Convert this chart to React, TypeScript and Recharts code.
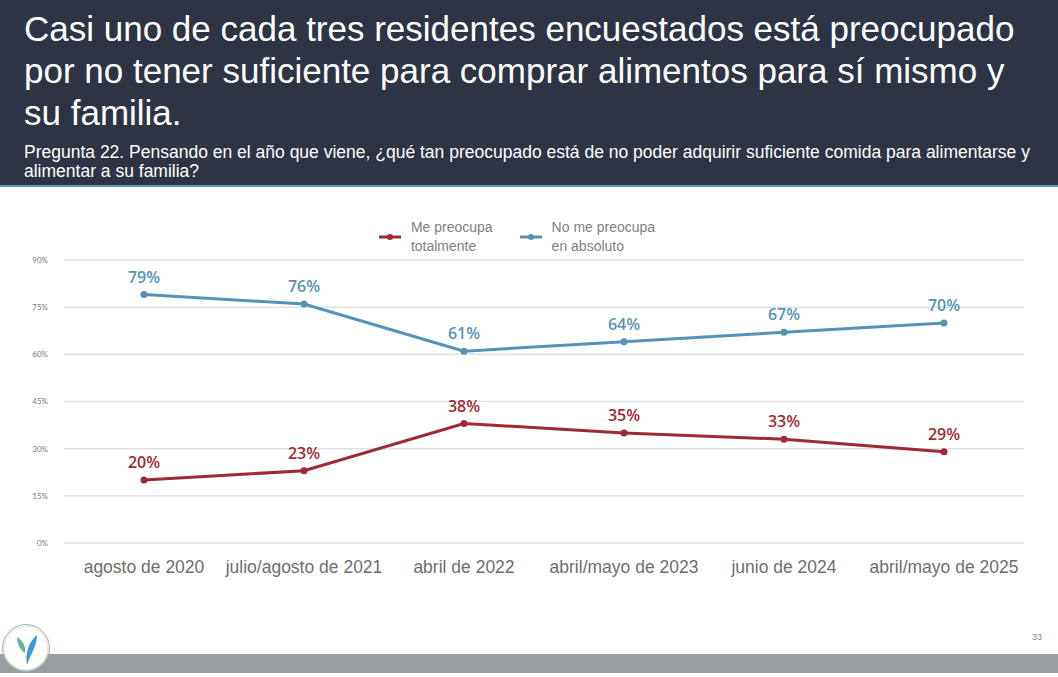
import React from "react"
import {
  LineChart,
  Line,
  XAxis,
  YAxis,
  CartesianGrid,
  Legend,
  LabelList,
} from "recharts"

const periods = [
  "agosto de 2020",
  "julio/agosto de 2021",
  "abril de 2022",
  "abril/mayo de 2023",
  "junio de 2024",
  "abril/mayo de 2025",
]
const worriedTotally = [20, 23, 38, 35, 33, 29]
const notWorried = [79, 76, 61, 64, 67, 70]
const yTicks = [0, 15, 30, 45, 60, 75, 90]

const RED = "#9e2a31"
const BLUE = "#5593b6"

const data = periods.map((p, i) => ({
  period: p,
  total: worriedTotally[i],
  none: notWorried[i],
}))

const legendItems = [
  { color: RED, lines: ["Me preocupa", "totalmente"] },
  { color: BLUE, lines: ["No me preocupa", "en absoluto"] },
]

function ChartLegend() {
  return (
    <div style={{ display: "flex", justifyContent: "center", gap: 27, marginLeft: -24 }}>
      {legendItems.map((item) => (
        <div key={item.lines[0]} style={{ display: "flex", alignItems: "center" }}>
          <svg width={30} height={10} style={{ marginRight: 2 }}>
            <line x1={0} y1={5} x2={22} y2={5} stroke={item.color} strokeWidth={3} />
            <circle cx={11} cy={5} r={3} fill={item.color} />
          </svg>
          <div
            style={{
              fontFamily: "'Liberation Sans', Arial, sans-serif",
              fontSize: 14,
              lineHeight: "19px",
              color: "#808080",
            }}
          >
            {item.lines[0]}
            <br />
            {item.lines[1]}
          </div>
        </div>
      ))}
    </div>
  )
}

export default function App() {
  return (
    <div
      style={{
        position: "absolute",
        left: 0,
        top: 0,
        width: 1058,
        height: 677,
        background: "#fff",
        overflow: "hidden",
      }}
    >
      <div
        style={{
          position: "absolute",
          left: 0,
          top: 0,
          width: 1058,
          height: 185,
          background: "#2e3443",
          borderBottom: "2px solid #5a95b8",
          color: "#fff",
          fontFamily: "'Liberation Sans', Arial, sans-serif",
        }}
      >
        <div
          style={{
            position: "absolute",
            left: 24,
            top: 8,
            width: 1010,
            fontSize: 35,
            lineHeight: "42px",
          }}
        >
          Casi uno de cada tres residentes encuestados está preocupado por no tener
          suficiente para comprar alimentos para sí mismo y su familia.
        </div>
        <div
          style={{
            position: "absolute",
            left: 24,
            top: 143,
            width: 1032,
            fontSize: 17.5,
            lineHeight: "19px",
          }}
        >
          Pregunta 22. Pensando en el año que viene, ¿qué tan preocupado está de no
          poder adquirir suficiente comida para alimentarse y alimentar a su familia?
        </div>
      </div>

      <div style={{ position: "absolute", left: 0, top: 200 }}>
        <LineChart
          width={1058}
          height={420}
          data={data}
          margin={{ top: 60, right: 34, left: 0, bottom: 37 }}
        >
          <CartesianGrid vertical={false} stroke="#dfe1e8" strokeWidth={1.5} />
          <XAxis
            dataKey="period"
            axisLine={false}
            tickLine={false}
            height={40}
            tickMargin={12}
            padding={{ left: 80, right: 80 }}
            tick={{ fontSize: 17.5, fill: "#6e6e6e", fontFamily: "'Liberation Sans', Arial, sans-serif" }}
            interval={0}
          />
          <YAxis
            domain={[0, 90]}
            ticks={yTicks}
            width={64}
            axisLine={false}
            tickLine={false}
            tickMargin={10}
            tickFormatter={(v) => `${v}%`}
            tick={{ fontSize: 8, fill: "#7a7a7a", fontFamily: "Lato, sans-serif" }}
          />
          <Legend
            layout="horizontal"
            verticalAlign="middle"
            align="center"
            wrapperStyle={{ top: 18, left: 0, width: 1058 }}
            content={() => <ChartLegend />}
          />
          <Line
            dataKey="total"
            stroke={RED}
            strokeWidth={3}
            dot={{ r: 3.5, fill: RED, stroke: RED, strokeWidth: 0 }}
            isAnimationActive={false}
          >
            <LabelList
              dataKey="total"
              position="top"
              offset={12}
              formatter={(v: number) => `${v}%`}
              style={{ fontSize: 16, fontWeight: 600, fill: RED, fontFamily: "'Open Sans', sans-serif" }}
            />
          </Line>
          <Line
            dataKey="none"
            stroke={BLUE}
            strokeWidth={3}
            dot={{ r: 3.5, fill: BLUE, stroke: BLUE, strokeWidth: 0 }}
            isAnimationActive={false}
          >
            <LabelList
              dataKey="none"
              position="top"
              offset={12}
              formatter={(v: number) => `${v}%`}
              style={{ fontSize: 16, fontWeight: 600, fill: BLUE, fontFamily: "'Open Sans', sans-serif" }}
            />
          </Line>
        </LineChart>
      </div>

      {/* footer: logo badge, page number, grey band */}
      <div
        style={{
          position: "absolute",
          left: 0,
          top: 654,
          width: 1058,
          height: 19,
          background: "#9a9da0",
        }}
      />
      <svg style={{ position: "absolute", left: 0, top: 620 }} width={54} height={57}>
        <circle cx={26} cy={28} r={22} fill="#fff" stroke="#f3e7bd" strokeWidth={1.5} />
        <circle cx={26} cy={28} r={23.5} fill="none" stroke="#8fb8de" strokeWidth={1} />
        <path d="M17 17 C22 20 26 25 25 33 C20 30 17 24 17 17 Z" fill="#6cb39a" />
        <path d="M37 15 C37 26 31 33 27 45 C25 35 28 22 37 15 Z" fill="#3e97d6" />
      </svg>
      <div
        style={{
          position: "absolute",
          left: 1032,
          top: 632,
          fontSize: 9,
          color: "#888",
          fontFamily: "'Liberation Sans', Arial, sans-serif",
        }}
      >
        33
      </div>
    </div>
  )
}
